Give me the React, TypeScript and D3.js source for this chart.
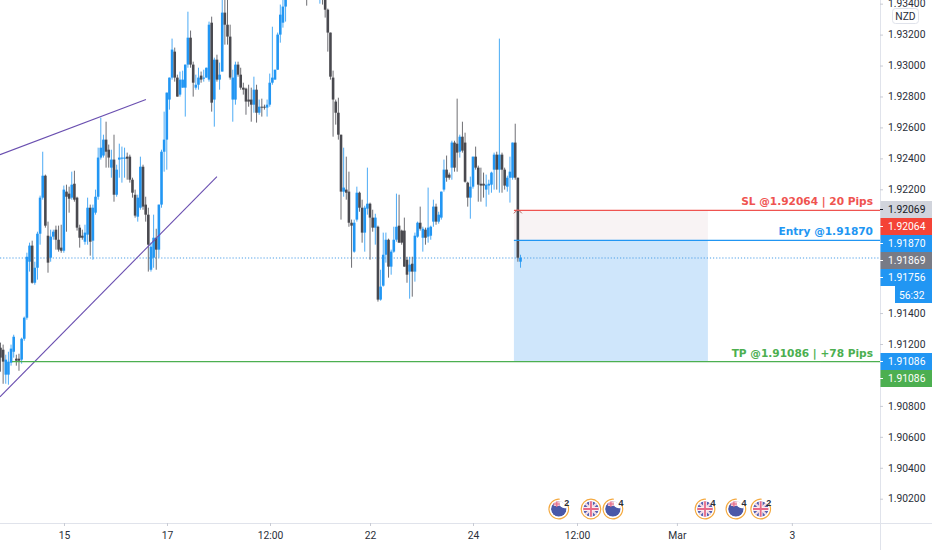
import React, { useEffect, useRef } from 'react';
import * as d3 from 'd3';

// prices are stored in 1e-5 units (pipettes), 192064 = 1.92064
const opens = [191176,191163,191002,191002,191079,191150,191105,191105,191099,191234,191370,191732,191836,191596,191693,191913,192146,192288,191900,191758,191894,191939,191874,191823,191803,192185,192172,192146,192236,192146,191952,191900,191861,191907,192081,191868,192049,192152,192405,192418,192521,192456,192340,192392,192165,192392,192398,192398,192411,192411,192262,192165,192023,192081,192346,192101,192036,191680,191758,191887,191810,192101,192443,192521,192780,192922,193090,192922,192812,192857,192857,193006,193180,193006,192857,192876,192935,192915,192922,192909,193277,192780,193038,192909,192961,193342,193264,193187,192780,192780,193006,192941,192857,192851,192780,192780,192747,192844,192695,192734,192734,192728,192747,192889,192909,192973,193200,193277,193381,193465,193491,193530,193560,193523,193588,193568,193523,193523,193555,193491,193478,193491,193523,193465,193361,193213,192922,192767,192695,192553,192185,192198,192185,191984,191797,192004,192178,192081,191920,192075,192107,192017,191952,191958,191487,191577,191777,191874,191700,191797,191874,191965,191933,191933,191745,191668,191719,191668,191894,191984,191887,191939,191894,191900,191991,192088,191991,192017,192198,192327,192295,192340,192502,192495,192443,192540,192502,192243,192146,192217,192411,192340,192236,192236,192198,192224,192230,192327,192424,192327,192424,192327,192217,192275,192275,192502,192275,191732];
const highs = [191209,191196,191131,191150,191196,191260,191131,191137,191241,191377,191790,191855,191868,191732,191926,192159,192443,192295,191991,191939,191939,191965,191965,191971,192224,192230,192217,192314,192320,192152,191971,191939,191971,192146,192101,192101,192198,192469,192663,192553,192637,192489,192456,192553,192359,192495,192476,192469,192437,192424,192275,192198,192165,192411,192359,192152,192081,191855,192036,191945,192101,192456,192702,192825,192922,193174,193116,192941,192961,192967,193006,193348,193226,193025,192941,192986,192961,192973,192986,193284,193316,193051,193070,193019,193458,193491,193426,193264,192973,193025,193025,192986,192889,192857,192876,192857,192928,192876,192780,192786,192747,192780,192948,193251,192973,193213,193394,193452,193491,193555,193588,193600,193590,193620,193620,193594,193555,193555,193581,193581,193568,193581,193555,193491,193368,193213,192967,192780,192792,192553,192469,192411,192314,192004,192004,192217,192185,192133,192094,192340,192114,192068,192042,191965,191680,191920,191920,191881,191810,191958,192172,192165,191939,192017,191764,191764,191764,191920,191991,192088,191958,191952,192211,191965,192133,192107,192055,192185,192392,192418,192308,192514,192514,192786,192553,192637,192566,192249,192282,192411,192476,192353,192340,192308,192295,192262,192314,192437,192443,193174,192437,192340,192288,192411,192502,192624,192275,191777];
const lows = [191021,190943,190943,190937,191060,191112,191060,191027,191073,191221,191357,191668,191590,191583,191616,191842,192133,191952,191661,191732,191874,191810,191797,191790,191790,191926,192049,192133,192120,191933,191823,191874,191842,191842,191771,191745,192036,192133,192392,192405,192340,192340,192275,192120,192152,192275,192243,192275,192262,192243,192146,192017,191991,192068,192068,191991,191668,191668,191693,191680,191758,192081,192314,192327,192715,192909,192896,192799,192799,192857,192670,192986,192986,192799,192844,192844,192889,192896,192922,192896,192702,192605,192896,192844,192961,193135,193135,192909,192637,192747,192928,192844,192812,192682,192734,192637,192695,192631,192682,192670,192715,192670,192734,192876,192909,192973,193148,193245,193284,193439,193478,193510,193500,193504,193504,193452,193387,193426,193458,193465,193445,193400,193394,193310,193090,192909,192540,192618,192521,192004,192152,192133,191958,191693,191790,191991,192055,191855,191797,192036,191745,191926,191842,191474,191480,191571,191726,191629,191648,191790,191861,191855,191842,191700,191596,191493,191506,191603,191887,191933,191797,191842,191855,191874,191958,191971,191978,192004,192185,192249,192262,192262,192314,192314,192405,192437,192243,192088,192010,192204,192327,192120,192120,192146,192088,192165,192178,192198,192198,192178,192178,192198,192185,192114,192262,192262,191732,191693];
const closes = [191112,191086,191099,191086,191170,191247,191092,191092,191234,191370,191764,191836,191596,191693,191913,192146,192288,191965,191726,191894,191926,191874,191810,191803,192198,192152,192139,192230,192133,191952,191887,191887,191920,192081,191861,192081,192152,192405,192469,192521,192443,192405,192392,192165,192327,192405,192405,192405,192398,192262,192178,192030,192146,192346,192088,192036,191842,191829,191887,191810,192101,192443,192521,192825,192922,193103,192922,192799,192909,192909,193006,193180,193006,192889,192876,192922,192909,192922,192986,193264,192760,193038,192909,192941,193342,193264,193187,192922,192922,193006,192941,192857,192844,192767,192767,192747,192844,192695,192734,192728,192728,192747,192889,192922,192973,193200,193329,193381,193445,193523,193555,193560,193530,193588,193523,193504,193465,193478,193491,193555,193542,193555,193458,193361,193213,192928,192780,192695,192553,192185,192211,192178,191984,191965,191984,192178,192081,191920,192081,192107,192017,191952,192017,191487,191571,191777,191874,191700,191797,191874,191958,191855,191855,191700,191648,191713,191668,191900,191984,191945,191945,191887,191952,191958,192088,191991,192036,192185,192327,192275,192275,192502,192340,192437,192540,192450,192249,192146,192217,192411,192340,192230,192224,192224,192230,192236,192308,192424,192327,192424,192327,192224,192275,192314,192502,192275,191758,191758];

const priceTicks = [1.934, 1.932, 1.93, 1.928, 1.926, 1.924, 1.922, 1.914, 1.912, 1.908, 1.906, 1.904, 1.902];
const timeTickIndex = [24.05, 63.07, 102.1, 140, 179, 218.4, 256.25, 299.8];
const timeTickLabels = ['15', '17', '12:00', '22', '24', '12:00', 'Mar', '3'];

const stopPrice = 1.92064;
const entryPrice = 1.9187;
const targetPrice = 1.91086;
const lastPrice = 1.91756;
const tradeStart = 194.5;
const tradeEnd = 268;

const upperTrendIndex = [-0.2, 55.1];
const upperTrendPrice = [1.92424, 1.9278];
const lowerTrendIndex = [-0.2, 82];
const lowerTrendPrice = [1.90859, 1.92282];

const axisLabels = ['1.92069', '1.92064', '1.91870', '1.91869', '1.91756'];
const targetLabels = ['1.91086', '1.91086'];

const eventIndex = [211.5, 223.7, 232, 266.9, 278.6, 288];
const eventKind = ['NZ', 'UK', 'NZ', 'UK', 'NZ', 'UK'];
const eventCount = ['2', '', '4', '4', '4', '2'];

const WIDTH = 932;
const HEIGHT = 550;
const PANE_W = 880;
const PANE_H = 523;
const BLUE = '#2196f3';
const DARK = '#4a4a50';
const AXIS_FONT = 'Roboto, sans-serif';
const AXIS_SIZE = 10.3;

const App: React.FC = () => {
  const svgRef = useRef<SVGSVGElement>(null);

  useEffect(() => {
    if (!svgRef.current) return;
    const svg = d3.select(svgRef.current);
    svg.selectAll('*').remove();

    const x = d3.scaleLinear().domain([0, opens.length - 1]).range([0.5, 520.5]);
    const y = d3.scaleLinear().domain([1.932, 1.902]).range([34.6, 498.7]);
    const py = (v: number) => y(v / 1e5);

    svg.append('rect').attr('width', WIDTH).attr('height', HEIGHT).attr('fill', '#fff');
    const defs = svg.append('defs');
    defs.append('clipPath').attr('id', 'pane').append('rect').attr('width', PANE_W).attr('height', PANE_H);
    // the screenshot is soft, candles look slightly smeared
    defs.append('filter').attr('id', 'soft').append('feGaussianBlur').attr('stdDeviation', 0.35);
    const pane = svg.append('g').attr('clip-path', 'url(#pane)');

    // --- Trade boxes ---
    const boxX = x(tradeStart);
    const boxW = x(tradeEnd) - boxX;
    pane.append('rect').attr('x', boxX).attr('width', boxW)
      .attr('y', y(stopPrice)).attr('height', y(entryPrice) - y(stopPrice)).attr('fill', '#f8f3f4');
    pane.append('rect').attr('x', boxX).attr('width', boxW)
      .attr('y', y(entryPrice)).attr('height', y(targetPrice) - y(entryPrice)).attr('fill', '#cfe6fb');

    // --- Last price dotted line ---
    pane.append('line').attr('x1', 0).attr('x2', PANE_W).attr('y1', y(lastPrice)).attr('y2', y(lastPrice))
      .attr('stroke', '#4d9fe8').attr('stroke-width', 1.2).attr('stroke-dasharray', '1.2 1.9');

    // --- Candles ---
    const bars = pane.append('g').attr('filter', 'url(#soft)');
    opens.forEach((o, i) => {
      const c = closes[i];
      const col = c >= o ? BLUE : DARK;
      const cx = x(i);
      bars.append('line').attr('x1', cx).attr('x2', cx)
        .attr('y1', py(highs[i])).attr('y2', py(lows[i]))
        .attr('stroke', col).attr('stroke-width', 1).attr('stroke-opacity', 0.8);
      const top = py(Math.max(o, c));
      bars.append('rect').attr('x', cx - 1.3).attr('width', 2.6)
        .attr('y', top).attr('height', Math.max(1, py(Math.min(o, c)) - top))
        .attr('fill', col);
    });

    // --- Trend lines ---
    const drawTrend = (idx: number[], prices: number[]) => {
      const line = d3.line<number>().x(d => x(d)).y((_, i) => y(prices[i]));
      pane.append('path').attr('d', line(idx))
        .attr('fill', 'none').attr('stroke', '#6a4fb0').attr('stroke-width', 1.1);
    };
    drawTrend(upperTrendIndex, upperTrendPrice);
    drawTrend(lowerTrendIndex, lowerTrendPrice);

    // --- SL / Entry / TP lines ---
    const levelLine = (price: number, from: number, col: string) => {
      pane.append('line').attr('x1', from).attr('x2', PANE_W)
        .attr('y1', y(price)).attr('y2', y(price)).attr('stroke', col).attr('stroke-width', 1.3);
    };
    levelLine(stopPrice, boxX, '#ef5350');
    levelLine(entryPrice, boxX, BLUE);
    levelLine(targetPrice, 12, '#4caf50');

    // small caret where the stop sits on the last falling candle
    const markX = x(opens.length - 2);
    pane.append('path')
      .attr('d', `M${markX - 4},${y(stopPrice) + 3}L${markX},${y(stopPrice) - 1}L${markX + 4},${y(stopPrice) + 3}`)
      .attr('fill', 'none').attr('stroke', '#b5655f').attr('stroke-width', 1);

    const levelText = (price: number, txt: string, col: string) => {
      pane.append('text').attr('x', 873).attr('y', y(price) - 5).attr('text-anchor', 'end')
        .attr('font-family', '"DejaVu Sans", sans-serif').attr('font-weight', 'bold').attr('font-size', 10.6)
        .attr('fill', col).text(txt);
    };
    levelText(stopPrice, 'SL @1.92064 | 20 Pips', '#ef5350');
    levelText(entryPrice, 'Entry @1.91870', BLUE);
    levelText(targetPrice, 'TP @1.91086 | +78 Pips', '#4caf50');

    // --- Event icons ---
    const icons = svg.append('g');
    const arc = d3.arc<any>();
    eventIndex.forEach((idx, i) => {
      const g = icons.append('g').attr('transform', `translate(${x(idx)},509)`);
      const hasCount = eventCount[i] !== '';
      g.append('path')
        .attr('d', arc({ innerRadius: 9.2, outerRadius: 10.4,
          startAngle: hasCount ? 1.05 : 0, endAngle: hasCount ? Math.PI * 2 + 0.1 : Math.PI * 2 }))
        .attr('fill', '#f4a93f');
      const clipId = `ev${i}`;
      g.append('clipPath').attr('id', clipId).append('circle').attr('r', 7.8);
      const inner = g.append('g').attr('clip-path', `url(#${clipId})`);
      if (eventKind[i] === 'UK') {
        inner.append('circle').attr('r', 7.8).attr('fill', '#5662b0');
        inner.append('path').attr('d', 'M-8,-8L8,8M-8,8L8,-8').attr('stroke', '#f3dbe4').attr('stroke-width', 2.2);
        inner.append('path').attr('d', 'M0,-8V8M-8,0H8').attr('stroke', '#fbeef2').attr('stroke-width', 3.8);
        inner.append('path').attr('d', 'M0,-8V8M-8,0H8').attr('stroke', '#e66a88').attr('stroke-width', 1.8);
      } else {
        inner.append('circle').attr('r', 7.8).attr('fill', '#4a58a8');
        inner.append('circle').attr('cx', 6).attr('cy', -6.5).attr('r', 5.8).attr('fill', '#fff');
        inner.append('rect').attr('x', -5).attr('y', -8).attr('width', 6).attr('height', 5).attr('fill', '#f1c6d2');
        inner.append('path').attr('d', 'M-2,-8V-2M-5.5,-5H1').attr('stroke', '#e66a88').attr('stroke-width', 1.2);
      }
      if (hasCount) {
        g.append('text').attr('x', 5.5).attr('y', -3).attr('font-family', '"Liberation Sans", sans-serif')
          .attr('font-size', 9).attr('font-weight', 'bold').attr('fill', '#2a2e39').text(eventCount[i]);
      }
    });

    // --- Axes ---
    const axisY = svg.append('g').attr('transform', `translate(${PANE_W},0)`)
      .call(d3.axisRight(y).tickValues(priceTicks).tickFormat(d3.format('.5f') as any).tickSize(3).tickPadding(5));
    axisY.select('.domain').attr('stroke', '#e0e3eb').attr('d', `M0.5,0V${HEIGHT}`);
    axisY.selectAll('line').attr('stroke', '#c8cbd4');
    axisY.selectAll('text').attr('font-family', AXIS_FONT).attr('font-size', AXIS_SIZE).attr('fill', '#2a2e39');

    const axisX = svg.append('g').attr('transform', `translate(0,${PANE_H})`)
      .call(d3.axisBottom(x).tickValues(timeTickIndex)
        .tickFormat((_, i) => timeTickLabels[i]).tickSize(3).tickPadding(6));
    axisX.select('.domain').attr('stroke', '#e0e3eb').attr('d', `M0,0.5H${WIDTH}`);
    axisX.selectAll('line').attr('stroke', '#c8cbd4');
    axisX.selectAll('text').attr('font-family', AXIS_FONT).attr('font-size', AXIS_SIZE).attr('fill', '#2a2e39');

    // --- Price tags ---
    const tagFill = ['#d1d4dc', '#f44336', BLUE, '#787b86', BLUE];
    const tagText = ['#131722', '#fff', '#fff', '#fff', '#fff'];
    const tag = (label: string, cy: number, fill: string, col: string) => {
      svg.append('rect').attr('x', PANE_W + 0.5).attr('y', cy - 8.5).attr('width', WIDTH - PANE_W).attr('height', 17).attr('fill', fill);
      svg.append('line').attr('x1', PANE_W).attr('x2', PANE_W + 3).attr('y1', cy).attr('y2', cy).attr('stroke', col === '#131722' ? '#131722' : '#ffffff');
      svg.append('text').attr('x', PANE_W + 8).attr('y', cy + 3.7)
        .attr('font-family', AXIS_FONT).attr('font-size', AXIS_SIZE).attr('fill', col).text(label);
    };
    axisLabels.forEach((t, i) => tag(t, 209.5 + i * 17, tagFill[i], tagText[i]));
    targetLabels.forEach((t, i) => tag(t, 361.5 + i * 17, i === 0 ? BLUE : '#4caf50', '#fff'));

    svg.append('rect').attr('x', 895).attr('y', 286).attr('width', 37).attr('height', 17).attr('fill', BLUE);
    svg.append('text').attr('x', 899).attr('y', 299).attr('font-family', AXIS_FONT)
      .attr('font-size', AXIS_SIZE).attr('fill', '#fff').text('56:32');

    // --- Currency badge ---
    svg.append('rect').attr('x', 892.5).attr('y', 8.5).attr('width', 26).attr('height', 15).attr('rx', 3)
      .attr('fill', '#fff').attr('stroke', '#e0e3eb');
    svg.append('text').attr('x', 905.5).attr('y', 20).attr('text-anchor', 'middle')
      .attr('font-family', AXIS_FONT).attr('font-size', AXIS_SIZE).attr('fill', '#2a2e39').text('NZD');
  }, []);

  return (
    <svg
      ref={svgRef}
      width={WIDTH}
      height={HEIGHT}
      viewBox={`0 0 ${WIDTH} ${HEIGHT}`}
      style={{ position: 'fixed', top: 0, left: 0, display: 'block' }}
    />
  );
};

export default App;
